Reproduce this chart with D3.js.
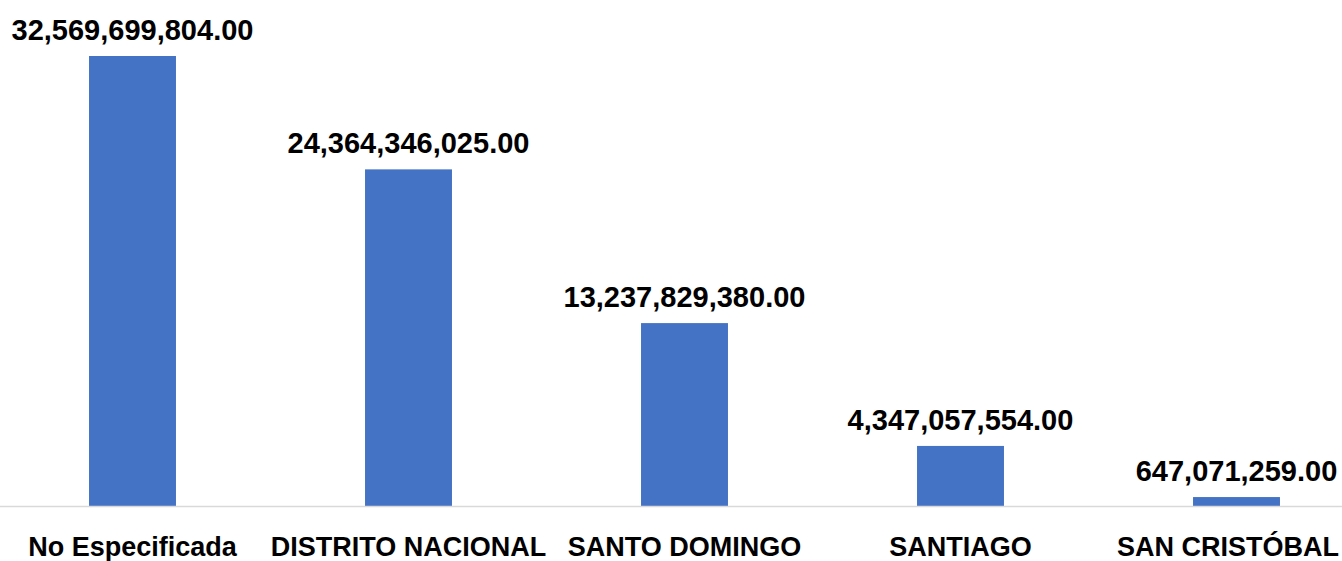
<!DOCTYPE html>
<html>
<head>
<meta charset="utf-8">
<script src="https://cdn.jsdelivr.net/npm/d3@7"></script>
<style>
  body { margin: 0; background: #fff; }
  svg text { font-family: "Liberation Sans", Arial, sans-serif; font-weight: bold; fill: #000; }
</style>
</head>
<body>
<div id="chart"></div>
<script>
const width = 1342;
const height = 561;

const categories = ["No Especificada", "DISTRITO NACIONAL", "SANTO DOMINGO", "SANTIAGO", "SAN CRISTÓBAL"];
const values = [32569699804.00, 24364346025.00, 13237829380.00, 4347057554.00, 647071259.00];

const baseline = 506;

const svg = d3.select("#chart").append("svg")
    .attr("width", width)
    .attr("height", height);

const x = d3.scaleBand()
    .domain(categories)
    .range([-5.5, 1374.5])
    .paddingInner(0.685)
    .paddingOuter(0.3425);

const y = d3.scaleLinear()
    .domain([0, d3.max(values)])
    .range([baseline, 56]);

const fmt = d3.format(",.2f");

// bars
svg.selectAll(".bar")
    .data(values)
    .join("rect")
    .attr("class", "bar")
    .attr("x", (d, i) => x(categories[i]))
    .attr("y", d => y(d))
    .attr("width", x.bandwidth())
    .attr("height", d => baseline - y(d))
    .attr("fill", "#4472C4");

// baseline
svg.append("line")
    .attr("x1", 0)
    .attr("x2", width)
    .attr("y1", baseline + 0.5)
    .attr("y2", baseline + 0.5)
    .attr("stroke", "#d9d9d9")
    .attr("stroke-width", 1.5);

// value labels
svg.selectAll(".val")
    .data(values)
    .join("text")
    .attr("class", "val")
    .attr("x", (d, i) => x(categories[i]) + x.bandwidth() / 2)
    .attr("y", d => y(d) - 16)
    .attr("text-anchor", "middle")
    .style("font-size", "29px")
    .text(d => fmt(d));

// category labels
const xAxis = svg.append("g")
    .attr("transform", `translate(0,${baseline})`)
    .call(d3.axisBottom(x).tickSize(0).tickPadding(0));
xAxis.select(".domain").remove();
xAxis.selectAll("text")
    .attr("dy", null)
    .attr("y", 50)
    .attr("fill", "#000")
    .style("font-size", "27px")
    .style("font-family", "'Liberation Sans', Arial, sans-serif")
    .style("font-weight", "bold");

// keep labels inside the right edge
svg.selectAll("text").each(function() {
    const b = this.getBBox();
    const ctm = this.getCTM();
    const right = b.x + b.width + (ctm ? ctm.e : 0);
    if (right > width - 3) {
        d3.select(this).attr("x", +(d3.select(this).attr("x") || 0) - (right - (width - 3)));
    }
});
</script>
</body>
</html>
